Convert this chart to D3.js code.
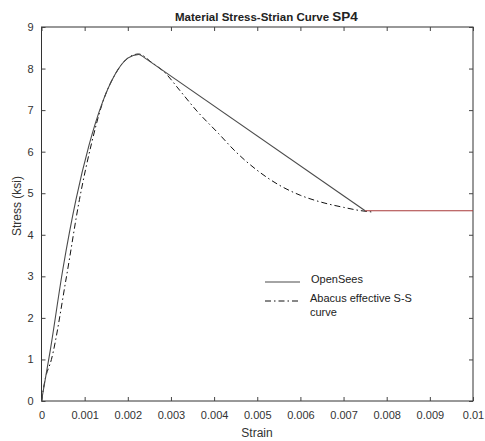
<!DOCTYPE html>
<html><head><meta charset="utf-8">
<script src="https://cdn.jsdelivr.net/npm/d3@7"></script>
<style>body{margin:0;background:#fff;} text{font-family:"Liberation Sans",Arial,sans-serif;}</style>
</head><body>
<svg id="chart" width="485" height="441"></svg>
<script>
const xTicks = [0,0.001,0.002,0.003,0.004,0.005,0.006,0.007,0.008,0.009,0.01];
const xTickLabels = ["0","0.001","0.002","0.003","0.004","0.005","0.006","0.007","0.008","0.009","0.01"];
const yTicks = [0,1,2,3,4,5,6,7,8,9];
const openSeesStrain = [0,0.0002,0.0005,0.0008,0.0011,0.0014,0.0017,0.002,0.00225,0.0024,0.0075];
const openSeesStress = [0,1.2,3.2,4.85,6.15,7.15,7.85,8.25,8.34,8.25,4.58];
const residualStrain = [0.0075,0.01];
const residualStress = [4.58,4.58];
const abacusStrain = [0,0.00008,0.00023,0.00058,0.00088,0.00116,0.0014,0.0017,0.002,0.00225,0.00255,0.00287,0.0032,0.0036,0.0041,0.0045,0.005,0.0055,0.006,0.0065,0.007,0.0074,0.00765];
const abacusStress = [0,0.5,1,3,4.85,6.2,7.13,7.85,8.25,8.35,8.15,7.89,7.48,6.98,6.44,6.0,5.55,5.2,4.95,4.78,4.66,4.58,4.55];

const svg = d3.select("#chart");
const m = {l:41.5, r:473, t:27, b:401};
const x = d3.scaleLinear().domain([0,0.01]).range([m.l,m.r]);
const y = d3.scaleLinear().domain([0,9]).range([m.b,m.t]);

svg.append("rect").attr("x",m.l).attr("y",m.t).attr("width",m.r-m.l).attr("height",m.b-m.t)
  .attr("fill","none").attr("stroke","#333").attr("stroke-width",1);

const fmtX = (d,i)=>xTickLabels[i];
const gBottom = svg.append("g").attr("transform",`translate(0,${m.b})`)
  .call(d3.axisBottom(x).tickValues(xTicks).tickFormat(fmtX).tickSizeInner(-4).tickSizeOuter(0).tickPadding(10));
const gTop = svg.append("g").attr("transform",`translate(0,${m.t})`)
  .call(d3.axisTop(x).tickValues(xTicks).tickFormat("").tickSizeInner(-4).tickSizeOuter(0));
const gLeft = svg.append("g").attr("transform",`translate(${m.l},0)`)
  .call(d3.axisLeft(y).tickValues(yTicks).tickFormat(d3.format("d")).tickSizeInner(-4).tickSizeOuter(0).tickPadding(8));
const gRight = svg.append("g").attr("transform",`translate(${m.r},0)`)
  .call(d3.axisRight(y).tickValues(yTicks).tickFormat("").tickSizeInner(-4).tickSizeOuter(0));
[gBottom,gTop,gLeft,gRight].forEach(g=>{
  g.select(".domain").remove();
  g.selectAll(".tick line").attr("stroke","#444");
  g.selectAll(".tick text").attr("fill","#333").style("font-size","11px").style("font-family","Liberation Sans, Arial, sans-serif");
});

const lineFn = d3.line().x(d=>x(d[0])).y(d=>y(d[1]));
const smoothFn = d3.line().x(d=>x(d[0])).y(d=>y(d[1])).curve(d3.curveMonotoneX);
const os = openSeesStrain.map((s,i)=>[s,openSeesStress[i]]);
const ab = abacusStrain.map((s,i)=>[s,abacusStress[i]]);
const rs = residualStrain.map((s,i)=>[s,residualStress[i]]);

svg.append("path").attr("d",smoothFn(ab)).attr("fill","none")
  .attr("stroke","#111").attr("stroke-width",1).attr("stroke-dasharray","6,3,1.5,3");
svg.append("path").attr("d",smoothFn(os.slice(0,10))).attr("fill","none")
  .attr("stroke","#4a4a4a").attr("stroke-width",1.1);
svg.append("path").attr("d",lineFn(os.slice(9))).attr("fill","none")
  .attr("stroke","#4a4a4a").attr("stroke-width",1.1);
svg.append("path").attr("d",lineFn(rs)).attr("fill","none")
  .attr("stroke","#a83a3a").attr("stroke-width",1.1);

const t = svg.append("text").attr("x",175).attr("y",21).attr("fill","#222");
t.append("tspan").text("Material Stress-Strian Curve ").style("font-size","11.5px").style("font-weight","bold");
t.append("tspan").text("SP4").style("font-size","13.5px").style("font-weight","bold");

svg.append("text").attr("x",257).attr("y",437).attr("text-anchor","middle").attr("fill","#333").style("font-size","12px").text("Strain");
svg.append("text").attr("transform","translate(21,206) rotate(-90)").attr("text-anchor","middle").attr("fill","#333").style("font-size","12px").text("Stress  (ksi)");

const lg = svg.append("g");
lg.append("line").attr("x1",265).attr("x2",300).attr("y1",282).attr("y2",282).attr("stroke","#4a4a4a").attr("stroke-width",1.1);
lg.append("line").attr("x1",265).attr("x2",300).attr("y1",301).attr("y2",301).attr("stroke","#111").attr("stroke-width",1).attr("stroke-dasharray","6,3,1.5,3");
lg.append("text").attr("x",311).attr("y",283).attr("fill","#222").style("font-size","11px").text("OpenSees");
lg.append("text").attr("x",310).attr("y",302).attr("fill","#222").style("font-size","11px").text("Abacus effective S-S");
lg.append("text").attr("x",310).attr("y",316).attr("fill","#222").style("font-size","11px").text("curve");
</script>
</body></html>
